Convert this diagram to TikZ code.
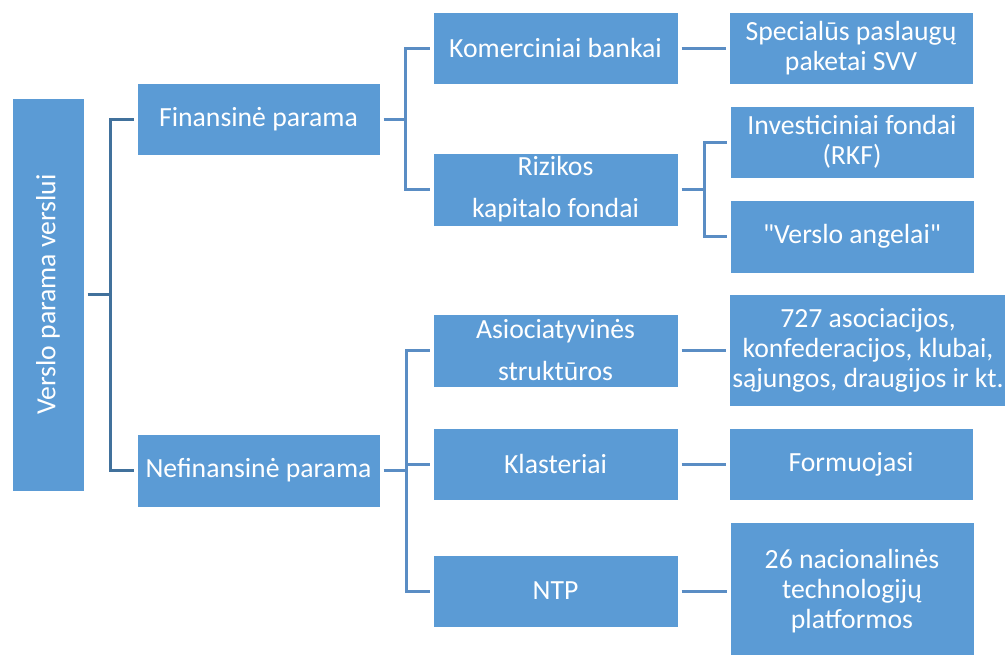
\documentclass[tikz,border=0pt]{standalone}
\usepackage{fontspec}
\setmainfont{Carlito}
\usetikzlibrary{positioning}
\definecolor{boxblue}{HTML}{5B9BD5}
\definecolor{linkdark}{HTML}{41719C}
\definecolor{linklight}{HTML}{5A8DC4}
\newcommand{\straightquote}{\XeTeXglyph\the\XeTeXcharglyph"22\relax}
\tikzset{support/.style={rectangle,draw=white,fill=boxblue,line width=1pt,
text=white,align=center,inner sep=0pt,minimum height=72pt, minimum width=245pt,
font=\fontsize{27.7}{30}\selectfont}}
\tikzset{supportlink/.style={draw=linklight,line width=3pt}}
\tikzset{supportrootlink/.style={draw=linkdark,line width=3pt}}

\begin{document}
\begin{tikzpicture}[x=1pt,y=-1pt]
        \useasboundingbox (0,0) rectangle (1005,654);
        \clip (0,0) rectangle (1005,654);

        \node[support, minimum width=72pt, minimum height=393pt] (boxRoot) at (48,294.5) {\rotatebox{90}{Verslo parama verslui}};

        \node[support, minimum width=243pt] (boxFin) at (258.5,119) {Finansinė parama};
        \node[support, minimum width=243pt, minimum height=73pt] (boxNef) at (258.5,470.5) {Nefinansinė parama};

        \node[support] (boxKom) at (555.5,48) {Komerciniai bankai};
        \node[support, minimum height=73pt] (boxRiz) at (555.5,189.5) {Rizikos\\[12pt]kapitalo fondai};
        \node[support, minimum height=73pt] (boxAso) at (555.5,350.5) {Asiociatyvinės\\[12pt]struktūros};
        \node[support] (boxKla) at (555.5,464) {Klasteriai};
        \node[support] (boxNtp) at (555.5,591) {NTP};

        \node[support, minimum width=244pt] (boxSpec) [right=50pt of boxKom] {Specialūs paslaugų\\paketai SVV};
        \node[support, minimum width=244pt] (boxInv) at (852,142) {Investiciniai fondai\\(RKF)};
        \node[support, minimum width=244pt, minimum height=73pt] (boxAng) at (852,236.5) {\straightquote Verslo angelai\straightquote};
        \node[support, minimum width=278pt, minimum height=112pt] (boxAsoc) at (868,350) {727 asociacijos,\\konfederacijos, klubai,\\sąjungos, draugijos ir kt.};
        \node[support, minimum width=244pt] (boxForm) [right=50pt of boxKla] {Formuojasi};
        \node[support, minimum width=244pt, minimum height=138pt] (boxNac) at (852,591) {26 nacionalinės\\technologijų\\platformos};

        % root level
        \draw[supportrootlink, shorten <=3pt, shorten >=3pt] (boxRoot.east) -- ++(26,0) coordinate (jRoot) |- (boxFin.west);
        \draw[supportrootlink, shorten >=3pt] (jRoot) |- (boxNef.west);

        % finansine parama
        \draw[supportlink, shorten <=3pt, shorten >=3pt] (boxFin.east) -- ++(25,0) coordinate (jFin) |- (boxKom.west);
        \draw[supportlink, shorten >=3pt] (jFin) |- (boxRiz.west);
        \draw[supportlink, shorten <=3pt, shorten >=3pt] (boxKom.east) -- (boxSpec.west);
        \draw[supportlink, shorten <=3pt, shorten >=3pt] (boxRiz.east) -- ++(26,0) coordinate (jRiz) |- (boxInv.west);
        \draw[supportlink, shorten >=3pt] (jRiz) |- (boxAng.west);

        % nefinansine parama
        \draw[supportlink, shorten <=3pt, shorten >=3pt] (boxNef.east) -- ++(26,0) coordinate (jNef) |- (boxAso.west);
        \draw[supportlink, shorten >=3pt] (jNef) |- (boxKla.west);
        \draw[supportlink, shorten >=3pt] (jNef) |- (boxNtp.west);
        \draw[supportlink, shorten <=3pt, shorten >=3pt] (boxAso.east) -- (boxAso.east -| boxAsoc.west);
        \draw[supportlink, shorten <=3pt, shorten >=3pt] (boxKla.east) -- (boxForm.west);
        \draw[supportlink, shorten <=3pt, shorten >=3pt] (boxNtp.east) -- (boxNac.west);

    \end{tikzpicture}
\end{document}
